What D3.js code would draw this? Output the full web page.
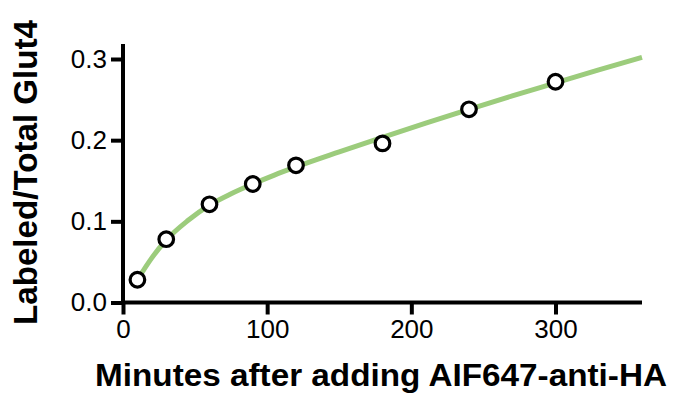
<!DOCTYPE html>
<html>
<head>
<meta charset="utf-8">
<script src="https://cdn.jsdelivr.net/npm/d3@7"></script>
<style>
  body { margin: 0; background: #fff; }
  svg { display: block; }
  text { font-family: "Liberation Sans", Arial, sans-serif; fill: #000; }
</style>
</head>
<body>
<svg id="chart" width="679" height="407"></svg>
<script>
// measured points
const minutes = [10, 30, 60, 90, 120, 180, 240, 300]
const labeled = [0.028, 0.078, 0.121, 0.146, 0.169, 0.196, 0.238, 0.272]

// fitted curve
const fitMinutes = [10, 20, 30, 45, 60, 75, 90, 105, 120, 150, 180, 210, 240, 270, 300, 330, 360]
const fitLabeled = [0.028, 0.055, 0.077, 0.101, 0.120, 0.134, 0.146, 0.157, 0.167, 0.1855, 0.2035, 0.221, 0.238, 0.2545, 0.2705, 0.2865, 0.302]

const xTicks = [0, 100, 200, 300]
const yTicks = [0, 0.1, 0.2, 0.3]

const svg = d3.select('#chart')
const x = d3.scaleLinear().domain([0, 360]).range([123, 642])
const y = d3.scaleLinear().domain([0, 0.3]).range([302.5, 59])

// axes
const xAxis = svg.append('g').attr('transform', `translate(0, ${y(0)})`)
  .call(d3.axisBottom(x).tickValues(xTicks).tickFormat(d3.format('d')).tickSize(12).tickPadding(5).tickSizeOuter(0))
const yAxis = svg.append('g').attr('transform', `translate(${x(0)}, 0)`)
  .call(d3.axisLeft(y).tickValues(yTicks).tickFormat(d3.format('.1f')).tickSize(12).tickPadding(4).tickSizeOuter(0))

yAxis.select('.domain').remove()
yAxis.append('line').attr('x1', 0).attr('x2', 0).attr('y1', 44).attr('y2', y(0) + 2)

;[xAxis, yAxis].forEach(g => {
  g.attr('font-size', null).attr('font-family', null)
  g.selectAll('.domain, line').attr('stroke', '#000').attr('stroke-width', 4)
  g.selectAll('text').style('font-size', '26px').attr('fill', '#000')
})
xAxis.select('.domain').attr('d', `M${x(0) - 2},0H${x(360)}`)

// fitted curve
const line = d3.line().x((d, i) => x(fitMinutes[i])).y(d => y(d)).curve(d3.curveMonotoneX)
svg.append('path').datum(fitLabeled)
  .attr('d', line)
  .attr('fill', 'none').attr('stroke', '#9ccc7c').attr('stroke-width', 5)

// data points
svg.append('g').selectAll('circle').data(minutes)
  .enter().append('circle')
  .attr('cx', d => x(d))
  .attr('cy', (d, i) => y(labeled[i]))
  .attr('r', 7.3)
  .attr('fill', '#fff').attr('stroke', '#000').attr('stroke-width', 3.2)

// axis titles
svg.append('text')
  .attr('x', 95).attr('y', 386)
  .attr('textLength', 572).attr('lengthAdjust', 'spacingAndGlyphs')
  .style('font-size', '31px').style('font-weight', 'bold')
  .text('Minutes after adding AIF647-anti-HA')

svg.append('text')
  .attr('transform', 'translate(37, 325) rotate(-90)')
  .attr('textLength', 305).attr('lengthAdjust', 'spacingAndGlyphs')
  .style('font-size', '33px').style('font-weight', 'bold')
  .text('Labeled/Total Glut4')
</script>
</body>
</html>
